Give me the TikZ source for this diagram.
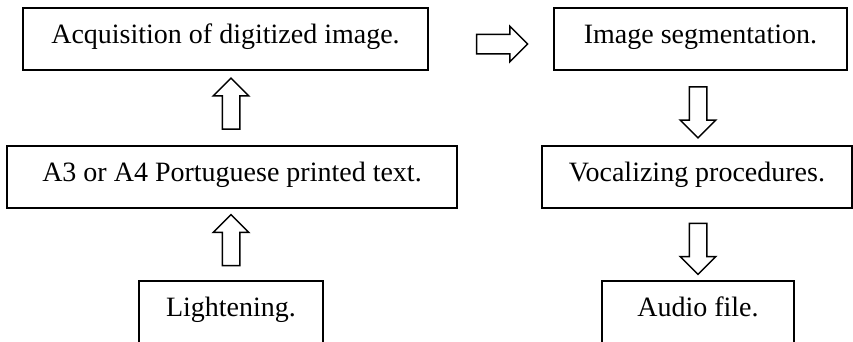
\documentclass[tikz,border=0pt]{standalone}
\usepackage{fontspec}
\setmainfont{Liberation Serif}
\usetikzlibrary{calc,shapes.arrows}

\begin{document}
\begin{tikzpicture}[
  x=1pt,y=-1pt,
  b/.style={draw,line width=1.5pt,inner xsep=0pt,inner ysep=0pt,
    text height=35pt,text depth=27pt,font=\fontsize{28}{30}\selectfont},
  ar/.style={single arrow,draw,line width=1.5pt,inner sep=0pt,
    text height=16pt,text depth=0pt,single arrow head extend=9pt,
    minimum height=51pt}
]
  \node[b,minimum width=405pt] (acq) at (225.5,39) {Acquisition of digitized image.};
  \node[b,minimum width=450pt] (a3) at (232,177) {A3 or A4 Portuguese printed text.};
  \node[b,minimum width=184pt] (light) at (231,312) {Lightening.};
  \node[b,minimum width=293pt] (seg) at (700.5,39) {Image segmentation.};
  \node[b,minimum width=310pt] (voc) at (697,177) {Vocalizing procedures.};
  \node[b,minimum width=192pt] (audio) at (698,312) {Audio file.};
  \foreach \p/\q/\c/\r/\n in {acq/a3/light/90/u1,a3/light/light/90/u2,
      seg/voc/audio/-90/d1,voc/audio/audio/-90/d2}
    {\node[ar,rotate=\r] (\n) at ($(\p.south -| \c)!.5!(\q.north -| \c)$) {};}
  \node[ar,text height=18pt,single arrow head extend=8pt] (r1)
    at ($(acq.east)!.55!(seg.west)+(0,5)$) {};
  \pgfresetboundingbox
  \useasboundingbox (0,0) rectangle (853,341);
\end{tikzpicture}
\end{document}
